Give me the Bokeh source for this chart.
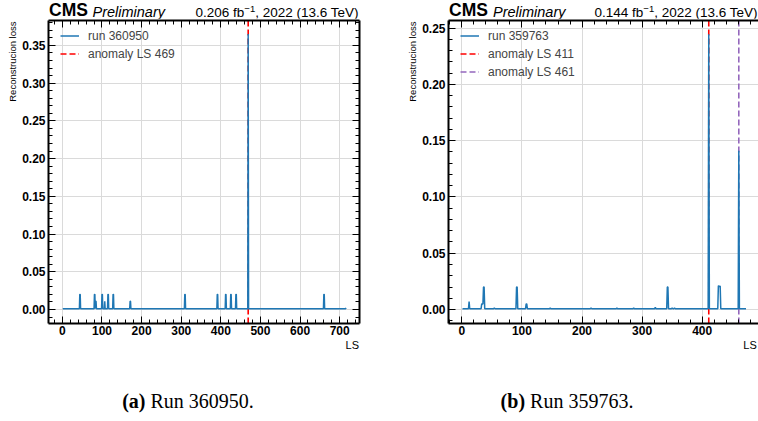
import numpy as np
from bokeh.plotting import figure
from bokeh.models import (Legend, LegendItem, LinearAxis, SingleIntervalTicker, FixedTicker,
                          PrintfTickFormatter, CustomJSTickFormatter, Range1d, Div)
from bokeh.layouts import row, column
from bokeh.embed import file_html
from bokeh.resources import INLINE

# ---------------- data ----------------
run1_label = "run 360950"
run1_first_ls = 1
run1_last_ls = 716
run1_baseline = 0.001
run1_spike_ls = [44, 45, 81, 82, 84, 85, 100, 101, 107, 115, 116, 128, 129, 171, 172,
                 309, 310, 391, 392, 412, 413, 425, 426, 438, 439, 469, 660, 661, 716]
run1_spike_loss = [0.02, 0.02, 0.02, 0.02, 0.011, 0.011, 0.02, 0.02, 0.011, 0.02, 0.02,
                   0.02, 0.02, 0.011, 0.011, 0.02, 0.02, 0.02, 0.02, 0.02, 0.02, 0.02,
                   0.02, 0.02, 0.02, 0.365, 0.02, 0.02, 0.002]
run1_anomaly_ls = [469]
run1_lumi = "0.206"
run1_caption = ("(a)", "Run 360950.")

run2_label = "run 359763"
run2_first_ls = 1
run2_last_ls = 473
run2_baseline = 0.0008
run2_spike_ls = [12, 33, 34, 35, 36, 37, 54, 91, 92, 107, 108, 147, 215, 258, 286, 322,
                 342, 343, 350, 354, 411, 427, 428, 429, 430, 461]
run2_spike_loss = [0.007, 0.005, 0.005, 0.005, 0.02, 0.02, 0.0015, 0.02, 0.02, 0.005,
                   0.005, 0.0013, 0.0015, 0.0013, 0.0013, 0.002, 0.02, 0.02, 0.0015,
                   0.0015, 0.2445, 0.021, 0.021, 0.02, 0.021, 0.141]
run2_anomaly_ls = [411, 461]
run2_lumi = "0.144"
run2_caption = ("(b)", "Run 359763.")

x_label = "LS"
y_label = "Reconstrucion loss"
anomaly_colors = ["#ff0000", "#9467bd"]
LINE_BLUE = "#1f77b4"
FONT = "Liberation Sans"

TITLE_H = 18          # height of the html strip above the figures
FRAME_TOP = 20        # page y of frame top
FRAME_H = 303
FIG_H = 335


def build_series(first, last, base, spike_ls, spike_loss):
    ls = np.arange(first, last + 1)
    loss = np.full(ls.shape, base, dtype=float)
    for s, v in zip(spike_ls, spike_loss):
        loss[s - first] = v
    return ls, loss


def make_panel(page_left, fig_w, frame_left, frame_w, xr, yr, ls, loss, run_label,
               anomalies, ls_right_px, right_axis=True):
    bl = frame_left - page_left
    bt = FRAME_TOP - TITLE_H
    p = figure(frame_width=frame_w, frame_height=FRAME_H,
               min_border_left=bl, min_border_top=bt,
               min_border_right=fig_w - bl - frame_w,
               min_border_bottom=FIG_H - bt - FRAME_H,
               x_range=Range1d(*xr), y_range=Range1d(*yr),
               output_backend="svg", toolbar_location=None, margin=0)
    p.outline_line_color = None
    p.background_fill_color = "white"
    p.border_fill_color = "white"

    def X(px):
        return xr[0] + (px - frame_left) / frame_w * (xr[1] - xr[0])

    def Y(py):
        return yr[1] - (py - FRAME_TOP) / FRAME_H * (yr[1] - yr[0])

    xt = SingleIntervalTicker(interval=100, num_minor_ticks=5)
    yt = SingleIntervalTicker(interval=0.05, num_minor_ticks=5)

    def style_axis(ax):
        ax.axis_line_width = 2
        ax.axis_line_color = "black"
        ax.major_tick_in = 7
        ax.major_tick_out = 0
        ax.minor_tick_in = 4
        ax.minor_tick_out = 0
        ax.major_tick_line_color = "black"
        ax.minor_tick_line_color = "black"
        ax.major_label_text_font = FONT
        ax.major_label_text_font_style = "bold"
        ax.major_label_text_font_size = "12px"
        ax.major_label_text_color = "black"

    def ticks_only(ax):
        style_axis(ax)
        ax.major_label_text_font_size = "0px"
        ax.major_label_text_color = None
        ax.major_label_standoff = 0

    def text_axis(ax, size):
        ax.axis_line_color = None
        ax.major_tick_line_color = None
        ax.minor_tick_line_color = None
        ax.major_tick_in = 0
        ax.major_tick_out = 0
        ax.minor_tick_in = 0
        ax.minor_tick_out = 0
        ax.major_label_text_font = FONT
        ax.major_label_text_font_size = size
        ax.major_label_text_color = "black"

    xa = p.xaxis[0]
    xa.ticker = xt
    style_axis(xa)
    xa.major_label_standoff = 2
    ya = p.yaxis[0]
    ya.ticker = yt
    ya.formatter = PrintfTickFormatter(format="%.2f")
    style_axis(ya)
    ya.major_label_standoff = 3

    top = LinearAxis(ticker=xt)
    ticks_only(top)
    p.add_layout(top, "above")
    if right_axis:
        rgt = LinearAxis(ticker=yt)
        ticks_only(rgt)
        p.add_layout(rgt, "right")

    # x-axis title at the right end (second, label-only axis below)
    ls_w = 11 * 1.223
    lsax = LinearAxis(ticker=FixedTicker(ticks=[X(ls_right_px - ls_w / 2)]),
                      formatter=CustomJSTickFormatter(code="return %r;" % x_label))
    text_axis(lsax, "11px")
    lsax.major_label_standoff = 1
    p.add_layout(lsax, "below")

    # y-axis title aligned to the top (second, label-only axis on the left)
    yl_len = 9.5 * 8.447
    ylax = LinearAxis(ticker=FixedTicker(ticks=[Y(FRAME_TOP + 1 + yl_len / 2)]),
                      formatter=CustomJSTickFormatter(code="return %r;" % y_label))
    text_axis(ylax, "9.5px")
    ylax.major_label_orientation = "parallel"
    ylax.major_label_standoff = 1
    p.add_layout(ylax, "left")

    p.xgrid.ticker = xt
    p.ygrid.ticker = yt
    for g in (p.xgrid[0], p.ygrid[0]):
        g.grid_line_color = "#dadada"
        g.grid_line_width = 1

    # anomaly dashed lines (behind the loss curve)
    items_anom = []
    for i, a in enumerate(anomalies):
        r = p.segment(x0=[a], x1=[a], y0=[yr[0]], y1=[yr[1]],
                      line_color=anomaly_colors[i], line_width=1.6, line_dash="6 3")
        items_anom.append(LegendItem(label="anomaly LS %d" % a, renderers=[r]))
    lr = p.line(ls, loss, line_color=LINE_BLUE, line_width=1.5)

    n_items = 1 + len(anomalies)
    leg_h = n_items * 15 + (n_items - 1) * 3
    legend = Legend(items=[LegendItem(label=run_label, renderers=[lr])] + items_anom,
                    location=(12, FRAME_H - 8 - leg_h), padding=0, margin=0, spacing=3,
                    glyph_width=19, glyph_height=15, label_height=15, label_standoff=9,
                    label_text_font=FONT, label_text_font_size="12px",
                    background_fill_alpha=0, border_line_alpha=0)
    p.add_layout(legend)
    return p


ls1, loss1 = build_series(run1_first_ls, run1_last_ls, run1_baseline, run1_spike_ls, run1_spike_loss)
ls2, loss2 = build_series(run2_first_ls, run2_last_ls, run2_baseline, run2_spike_ls, run2_spike_loss)

p1 = make_panel(0, 404, 48, 311, (-35.0, 750.0), (-0.0186, 0.383), ls1, loss1, run1_label,
                run1_anomaly_ls, 358.5, right_axis=True)
p2 = make_panel(404, 354, 448, 310, (-22.3, 493.8), (-0.0124, 0.2567), ls2, loss2, run2_label,
                run2_anomaly_ls, 759.7, right_axis=False)


# ---------------- html strips: header texts and captions ----------------
def txt(left=None, right=None, size=13.5, baseline=17, style="", content=""):
    top = baseline - 0.8465 * size
    pos = ("left:%.1fpx;" % left) if left is not None else ("right:%.1fpx;" % right)
    return ('<div style="position:absolute;%stop:%.2fpx;font-family:\'%s\',sans-serif;'
            'font-size:%.1fpx;line-height:1;white-space:nowrap;color:black;%s">%s</div>'
            % (pos, top, FONT, size, style, content))


def lumi_html(v):
    return ('%s fb<span style="font-size:9.5px;position:relative;top:-5px;">&#8722;1</span>,'
            '&nbsp;2022 (13.6 TeV)' % v)


head = ('<div style="position:relative;width:758px;height:%dpx;overflow:visible;">' % TITLE_H
        + txt(left=49, size=17.5, style="font-weight:bold;", content="CMS")
        + txt(left=92.5, size=14.5, style="font-style:italic;", content="Preliminary")
        + txt(right=758 - 358.5, size=13.5, content=lumi_html(run1_lumi))
        + txt(left=449, size=17.5, style="font-weight:bold;", content="CMS")
        + txt(left=493, size=14.5, style="font-style:italic;", content="Preliminary")
        + txt(right=0.5, size=13.5, content=lumi_html(run2_lumi))
        + '</div>')
header = Div(text=head, width=758, height=TITLE_H, margin=0)

CAP_H = 421 - TITLE_H - FIG_H - 1
cap_style = ("position:absolute;top:%dpx;text-align:center;font-family:'Liberation Serif',serif;"
             "font-size:20px;line-height:22px;color:black;white-space:nowrap;"
             % (401 - TITLE_H - FIG_H - 11))
cap_html = ('<div style="position:relative;width:758px;height:%dpx;">' % CAP_H
            + '<div style="%sleft:8px;width:360px;"><b>%s</b> %s</div>'
            % (cap_style, run1_caption[0], run1_caption[1])
            + '<div style="%sleft:377px;width:380px;"><b>%s</b> %s</div>'
            % (cap_style, run2_caption[0], run2_caption[1])
            + '</div>')
captions = Div(text=cap_html, width=758, height=CAP_H, margin=0)

layout = column(header, row(p1, p2, margin=0), captions, margin=0, spacing=0)
open("out.html", "w").write(file_html(layout, INLINE))
